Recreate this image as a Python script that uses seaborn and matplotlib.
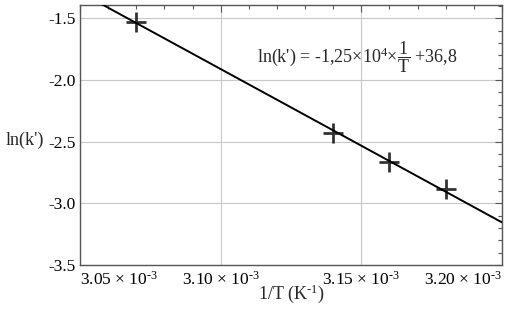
import matplotlib
matplotlib.use("Agg")
import matplotlib.pyplot as plt
import seaborn as sns
import numpy as np
import pandas as pd
from matplotlib.ticker import MultipleLocator, FixedLocator

# Data
inv_T = [3.070e-3, 3.140e-3, 3.160e-3, 3.180e-3]
ln_k = [-1.528, -2.432, -2.667, -2.883]
x_ticks = [3.05e-3, 3.10e-3, 3.15e-3, 3.20e-3]
x_tick_labels = [r"3.05 × 10$^{\text{-3}}$", r"3.10 × 10$^{\text{-3}}$",
                 r"3.15 × 10$^{\text{-3}}$", r"3.20 × 10$^{\text{-3}}$"]
y_ticks = [-3.5, -3.0, -2.5, -2.0, -1.5]
y_tick_labels = ["-3.5", "-3.0", "-2.5", "-2.0", "-1.5"]
equation = r"ln(k') = -1,25×10$^4$×$\dfrac{\mathrm{1}}{\mathrm{T}}$ +36,8"

sns.set_style("white")
plt.rcParams['font.family'] = ['Liberation Serif', 'DejaVu Serif']
plt.rcParams['mathtext.fontset'] = 'custom'
plt.rcParams['mathtext.rm'] = 'Liberation Serif'
plt.rcParams['mathtext.it'] = 'Liberation Serif:italic'
plt.rcParams['axes.unicode_minus'] = False

df = pd.DataFrame({"x": inv_T, "y": ln_k})

fig = plt.figure(figsize=(5.13, 3.11), dpi=100)
ax = fig.add_axes([80/513, 1-265/311, (502-80)/513, (265-5)/311])

ax.set_xlim(3.05e-3, 3.20e-3)
ax.set_ylim(-3.5, -1.392)

ax.grid(True, which='major', color='#c8c8c8', linewidth=0.8)
ax.set_axisbelow(True)

sns.regplot(data=df, x="x", y="y", ax=ax, ci=None, truncate=False,
            marker='+', color='black',
            scatter_kws=dict(s=190, linewidths=2.0, zorder=4),
            line_kws=dict(linewidth=1.4, color='black', zorder=3))
ax.set_xlim(3.05e-3, 3.20e-3)
ax.set_ylim(-3.5, -1.392)

ax.xaxis.set_major_locator(FixedLocator(x_ticks))
ax.set_xticklabels(x_tick_labels)
ax.yaxis.set_major_locator(FixedLocator(y_ticks))
ax.set_yticklabels(y_tick_labels)
ax.xaxis.set_minor_locator(MultipleLocator(0.01e-3))
ax.yaxis.set_minor_locator(MultipleLocator(0.1))

ax.tick_params(which='both', direction='in', top=True, right=True,
               colors='#555555', labelcolor='black', labelsize=12.5)
ax.tick_params(which='major', length=5, width=0.8)
ax.tick_params(which='minor', length=3, width=0.8)
ax.tick_params(axis='x', pad=4)
ax.tick_params(axis='y', pad=3)

labels = ax.get_xticklabels()
labels[0].set_horizontalalignment('left')
labels[-1].set_horizontalalignment('right')

for s in ax.spines.values():
    s.set_color('#555555')
    s.set_linewidth(1.0)

ax.set_xlabel(r"1/T (K$^{\text{-1}}$)", fontsize=13, va='center')
ax.xaxis.set_label_coords(0.5, (265-294)/260)
ax.set_ylabel("ln(k')", fontsize=13, rotation=0, ha='center', va='center')
ax.yaxis.set_label_coords((25-80)/422, (265-140)/260)

ax.text(0.42, 0.80, equation, transform=ax.transAxes, fontsize=13,
        ha='left', va='center')

fig.savefig("out.png", dpi=100)
